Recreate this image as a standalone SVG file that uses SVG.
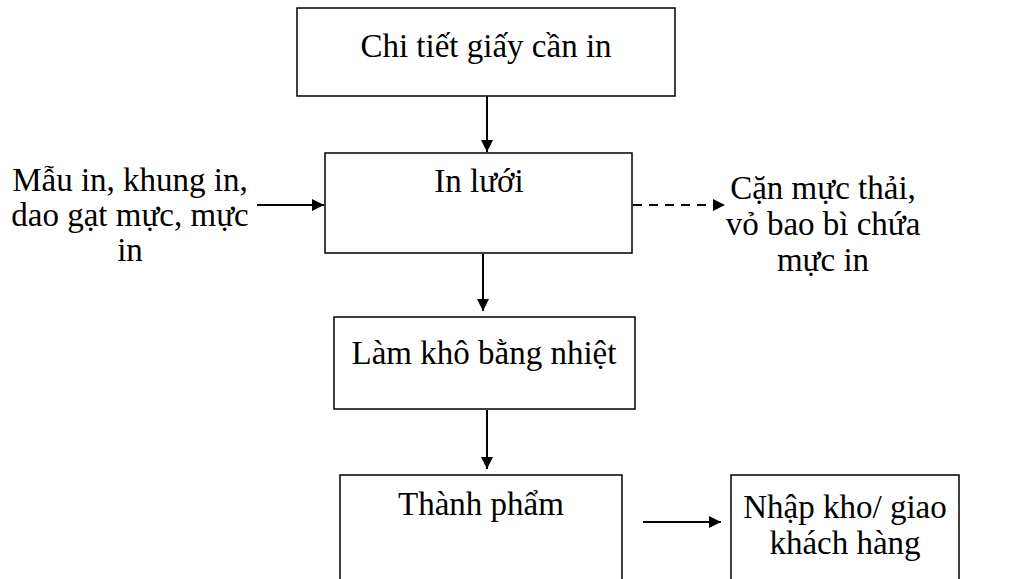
<svg xmlns="http://www.w3.org/2000/svg" width="1012" height="579" viewBox="0 0 1012 579">
<style>
.box{fill:#fff;stroke:#000;stroke-width:1.5}
.t{font-family:"Liberation Serif","Times New Roman",serif;font-size:33px;fill:#000;text-anchor:middle}
.c{stroke:#000;stroke-width:2;fill:none}
.d{stroke-dasharray:9,7}
</style>
<defs>
<marker id="ah" viewBox="0 0 10 10" refX="10" refY="5" markerWidth="12" markerHeight="13" markerUnits="userSpaceOnUse" orient="auto">
<path d="M0,0 L10,5 L0,10 z" fill="#000"/>
</marker>
</defs>
<rect width="1012" height="579" fill="#fff"/>
<g id="n1"><rect class="box" x="297" y="8" width="378" height="88"/><text class="t" x="486" y="57">Chi tiết giấy cần in</text></g>
<g id="n2"><rect class="box" x="325" y="153" width="307" height="100"/><text class="t" x="479" y="192">In lưới</text></g>
<g id="n3"><rect class="box" x="334" y="317" width="301" height="92"/><text class="t" x="484" y="364">Làm khô bằng nhiệt</text></g>
<g id="n4"><path class="box" d="M340,582 V475 H622 V582"/><text class="t" x="481" y="515">Thành phẩm</text></g>
<g id="n5"><path class="box" d="M731,582 V475 H959 V582"/><text class="t" x="845" y="518">Nhập kho/ giao</text><text class="t" x="845" y="554">khách hàng</text></g>
<g id="in"><text class="t" x="130" y="191">Mẫu in, khung in,</text><text class="t" x="130" y="226">dao gạt mực, mực</text><text class="t" x="130" y="261">in</text></g>
<g id="out"><text class="t" x="823" y="199">Cặn mực thải,</text><text class="t" x="823" y="235">vỏ bao bì chứa</text><text class="t" x="823" y="271">mực in</text></g>
<g id="connectors">
<line class="c" x1="487" y1="96" x2="487" y2="152" marker-end="url(#ah)"/>
<line class="c" x1="257" y1="205" x2="324" y2="205" marker-end="url(#ah)"/>
<line class="c d" x1="633" y1="205" x2="725" y2="205" marker-end="url(#ah)"/>
<line class="c" x1="483" y1="254" x2="483" y2="311" marker-end="url(#ah)"/>
<line class="c" x1="487" y1="410" x2="487" y2="469" marker-end="url(#ah)"/>
<line class="c" x1="643" y1="522" x2="721" y2="522" marker-end="url(#ah)"/>
</g>
</svg>
